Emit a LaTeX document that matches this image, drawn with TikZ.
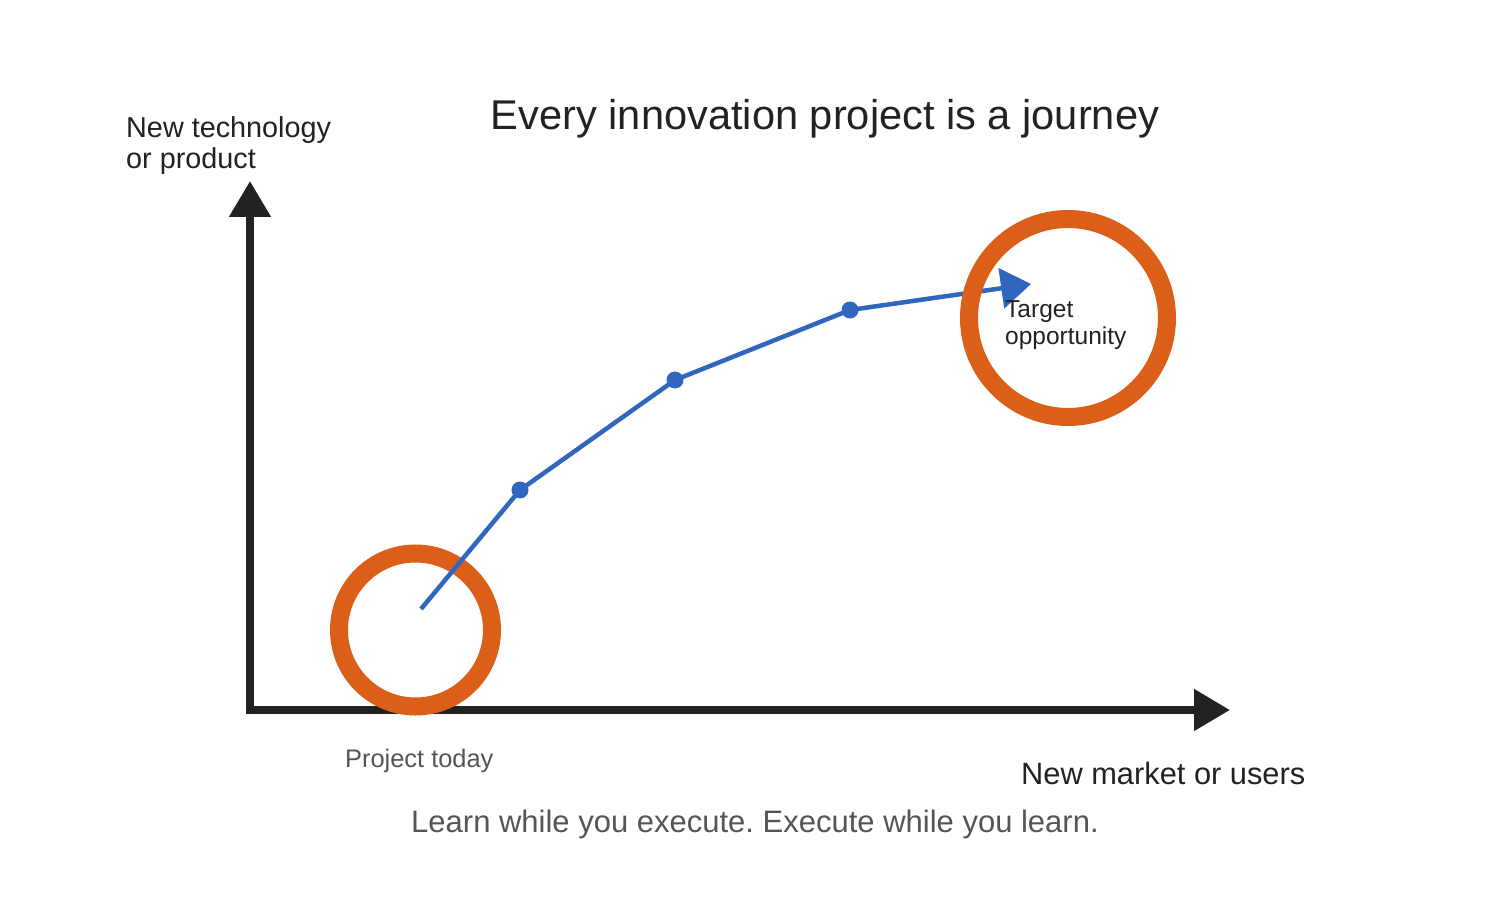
\documentclass[tikz,border=0pt]{standalone}
\usepackage{fontspec}
\setmainfont{Liberation Sans}
\usetikzlibrary{arrows.meta}
\definecolor{axisc}{HTML}{222222}
\definecolor{ringc}{RGB}{220,95,25}
\definecolor{pathc}{RGB}{48,102,190}
\definecolor{textc}{HTML}{222222}
\definecolor{greyc}{HTML}{555555}
\frenchspacing
\begin{document}
\begin{tikzpicture}[x=1pt,y=-1pt,
  axis/.style={draw=axisc, line width=8pt, line cap=rect, -{Triangle[length=36pt,width=40pt]}},
  ring/.style={circle, draw=ringc, line width=18pt, inner sep=0pt},
  journey/.style={draw=pathc, line width=4.5pt, -{Triangle[length=30pt,width=40pt]}},
  waypoint/.style={circle, fill=pathc, inner sep=0pt, minimum size=17pt},
  lbl/.style={inner sep=0pt, text=textc, anchor=base west},
]
\useasboundingbox[fill=white] (0,0) rectangle (1500,920);
% axes
\coordinate (origin) at (250,710);
\coordinate (ytop) at (250,181);
\coordinate (xend) at (1230,710);
\draw[axis] (origin) -- (ytop);
\draw[axis] (origin) -- (xend);
% start ring
\node[ring, minimum size=153pt] (today) at (415.5,630) {};
% journey
\node[waypoint] (w1) at (520,490) {};
\node[waypoint] (w2) at (675,380) {};
\node[waypoint] (w3) at (850,310) {};
\coordinate (start) at (421,609);
\coordinate (tip) at (1031,284);
\draw[journey] (start) -- (w1.center) -- (w2.center) -- (w3.center) -- (tip);
% target ring
\node[ring, minimum size=198pt] (target) at (1068,318) {};
% texts
\node[inner sep=0pt, text=textc, anchor=base, font=\fontsize{41.6}{50}\selectfont] (title) at (825,130) {Every innovation project is a journey};
\node[lbl, font=\fontsize{28.8}{31}\selectfont, align=left] (ylabel) at (126,169) {New technology\\or product};
\node[lbl, font=\fontsize{24.5}{27}\selectfont, align=left] (tlabel) at (1005,344) {Target\\opportunity};
\node[lbl, text=greyc, font=\fontsize{25.4}{30}\selectfont] (todaylabel) at (345,767) {Project today};
\node[lbl, font=\fontsize{30.8}{36}\selectfont] (xlabel) at (1021,784) {New market or users};
\node[inner sep=0pt, text=greyc, anchor=base, font=\fontsize{31}{36}\selectfont] (motto) at (755,832) {Learn while you execute. Execute while you learn.};
\end{tikzpicture}
\end{document}
